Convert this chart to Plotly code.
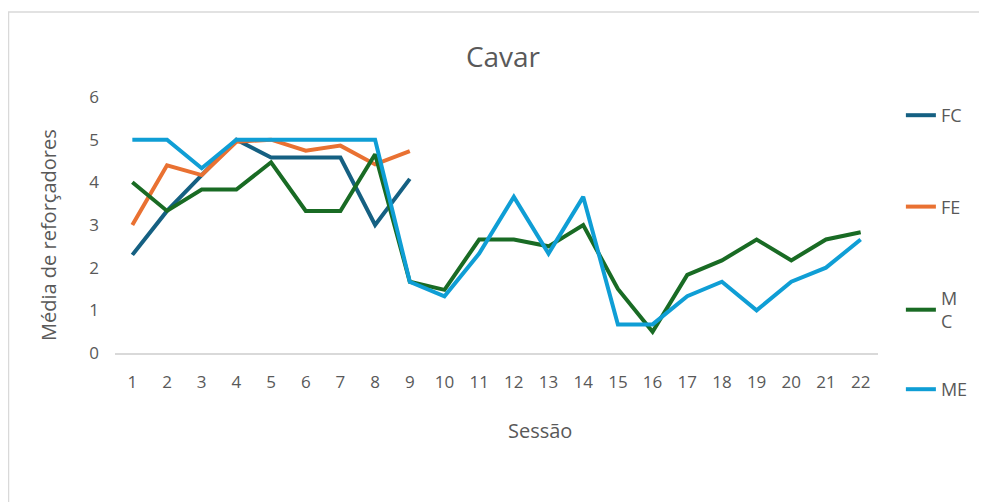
import plotly.graph_objects as go

sessions = [str(i) for i in range(1, 23)]
fc = [2.3, 3.33, 4.17, 5.0, 4.58, 4.58, 4.58, 3.0, 4.08]
fe = [3.0, 4.4, 4.17, 4.95, 5.0, 4.74, 4.86, 4.42, 4.73]
mc = [4.0, 3.33, 3.83, 3.83, 4.47, 3.33, 3.33, 4.66, 1.67, 1.48, 2.66, 2.66, 2.5, 3.0,
      1.5, 0.5, 1.83, 2.17, 2.66, 2.17, 2.66, 2.83]
me = [5.0, 5.0, 4.33, 5.0, 5.0, 5.0, 5.0, 5.0, 1.67, 1.33, 2.33, 3.66, 2.33, 3.66,
      0.67, 0.67, 1.33, 1.67, 1.0, 1.67, 2.0, 2.66]

series = [("FC", fc, "#156082", "legend"), ("FE", fe, "#E97132", "legend"),
          ("M<br>C", mc, "#196B24", "legend"), ("ME", me, "#0F9ED5", "legend2")]

fig = go.Figure()
for i, (name, vals, col, lg) in enumerate(series):
    fig.add_trace(go.Scatter(x=sessions[:len(vals)], y=vals, name=name, mode="lines",
                             line=dict(color=col, width=4), legendgroup=f"g{i}", legend=lg))

font = "Open Sans"
grey = "#595959"
leg_common = dict(xanchor="left", yanchor="top", font=dict(size=18, color=grey),
                  bgcolor="rgba(0,0,0,0)", maxheight=400)
fig.update_layout(
    width=979, height=494,
    paper_bgcolor="white", plot_bgcolor="white",
    margin=dict(l=107, r=109, t=89, b=149),
    title=dict(text="Cavar", x=0.5056, xanchor="center", y=0.9, yanchor="middle",
               font=dict(family=font, size=28, color=grey)),
    font=dict(family=font, size=17, color=grey),
    xaxis=dict(type="category", range=[-0.5, 21.5], showgrid=False, showline=True,
               linecolor="#D9D9D9", linewidth=2, ticks="", ticklabelstandoff=13),
    yaxis=dict(range=[0, 6], dtick=1, showgrid=False, zeroline=False, showline=False,
               ticks="", ticklabelstandoff=15),
    legend=dict(x=1.030, y=1.0, tracegroupgap=65, **leg_common),
    legend2=dict(x=1.030, y=-0.0703, **leg_common),
    annotations=[
        dict(text="Sessão", xref="paper", yref="paper", x=(540 - 115) / 763, y=(353 - 430) / 256,
             xanchor="center", yanchor="middle", showarrow=False, font=dict(size=20, color=grey)),
        dict(text="Média de reforçadores", xref="paper", yref="paper", x=(48 - 115) / 763,
             y=(353 - 235) / 256, xanchor="center", yanchor="middle", textangle=-90,
             showarrow=False, font=dict(size=20, color=grey)),
    ],
    shapes=[dict(type="rect", xref="paper", yref="paper", x0=-0.1396, x1=2, y0=-2, y1=1.332,
                 line=dict(color="#D9D9D9", width=1.5), layer="below")],
)

fig.write_html("out.html")
